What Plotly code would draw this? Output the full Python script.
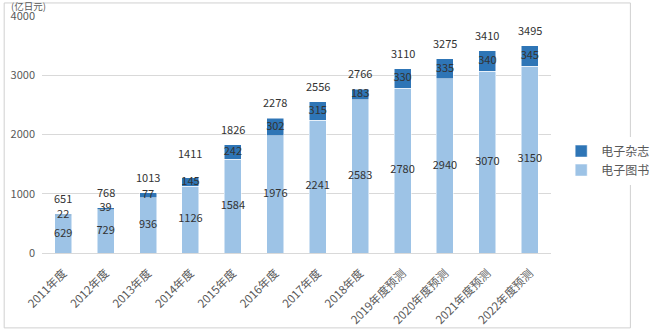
import plotly.graph_objects as go

categories = ["2011年度", "2012年度", "2013年度", "2014年度", "2015年度", "2016年度",
              "2017年度", "2018年度", "2019年度预测", "2020年度预测", "2021年度预测", "2022年度预测"]
ebooks = [629, 729, 936, 1126, 1584, 1976, 2241, 2583, 2780, 2940, 3070, 3150]
emagazines = [22, 39, 77, 145, 242, 302, 315, 183, 330, 335, 340, 345]
totals = [651, 768, 1013, 1411, 1826, 2278, 2556, 2766, 3110, 3275, 3410, 3495]
y_ticks = [0, 1000, 2000, 3000, 4000]

FONT = "Noto Sans CJK SC"
TXT = "#333333"
GRAY = "#595959"
LIGHT = "#9DC3E6"
DARK = "#2E75B6"

fig = go.Figure()
fig.add_trace(go.Bar(x=categories, y=ebooks, name="电子图书", marker=dict(color=LIGHT, line=dict(color="white", width=0.5)), width=0.4))
fig.add_trace(go.Bar(x=categories, y=emagazines, name="电子杂志", marker=dict(color=DARK, line=dict(color="white", width=0.5)), width=0.4))

# segment labels
fig.add_trace(go.Scatter(x=categories, y=[v / 2 for v in ebooks], mode="text",
                         text=[str(v) for v in ebooks], textposition="middle center",
                         textfont=dict(family=FONT, size=11, color=TXT), showlegend=False, hoverinfo="skip"))
fig.add_trace(go.Scatter(x=categories, y=[b + m / 2 for b, m in zip(ebooks, emagazines)], mode="text",
                         text=[str(v) for v in emagazines], textposition="middle center",
                         textfont=dict(family=FONT, size=11, color=TXT), showlegend=False, hoverinfo="skip"))

# totals
for c, t in zip(categories, totals):
    fig.add_annotation(x=c, y=t, text=str(t), showarrow=False, yanchor="bottom", yshift=6,
                       font=dict(family=FONT, size=11, color=TXT))

fig.add_annotation(xref="paper", yref="paper", x=-0.062, y=1.042, xanchor="left", yanchor="middle",
                   text="(亿日元)", showarrow=False, borderpad=0,
                   font=dict(family=FONT, size=9.5, color=GRAY))

# outer frame
fig.add_shape(type="rect", xref="paper", yref="paper", x0=-0.0743, x1=1.156, y0=-0.316, y1=1.055,
              line=dict(color="#D0D0D0", width=1), fillcolor="rgba(0,0,0,0)", layer="below")

fig.update_layout(
    width=667, height=331,
    margin=dict(l=42, r=87, t=16, b=78),
    barmode="stack",
    plot_bgcolor="white", paper_bgcolor="white",
    font=dict(family=FONT, size=11, color=GRAY),
    showlegend=True,
    legend=dict(x=1.02, y=0.39, xanchor="left", yanchor="middle", traceorder="reversed",
                font=dict(family=FONT, size=12, color=GRAY), itemwidth=30, tracegroupgap=0),
    xaxis=dict(tickangle=-45, tickfont=dict(family=FONT, size=11.5, color=GRAY), showgrid=False,
               showline=True, linecolor="#D9D9D9", ticks="", range=[-0.5, 11.5],
               ticklabelstandoff=8, automargin=False),
    yaxis=dict(range=[0, 4000], tickvals=y_ticks, showgrid=True, gridcolor="#D9D9D9", gridwidth=1,
               zeroline=False, tickfont=dict(family=FONT, size=11, color=GRAY), ticks="",
               ticklabelstandoff=6, automargin=False),
)

fig.write_html("out.html")
